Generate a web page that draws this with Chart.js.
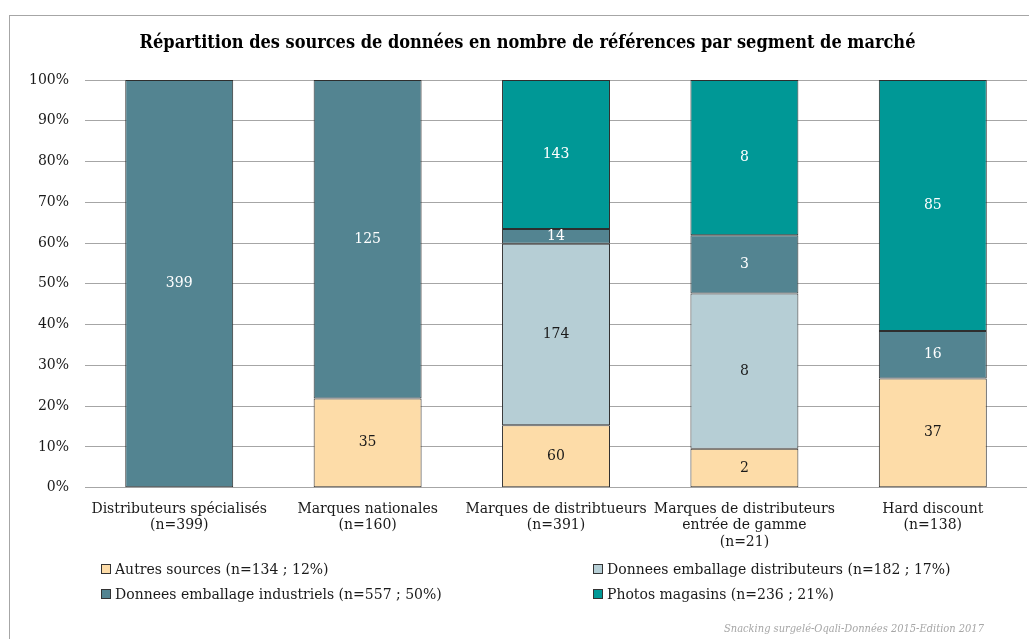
<!DOCTYPE html>
<html>
<head>
<meta charset="utf-8">
<script src="https://cdn.jsdelivr.net/npm/chart.js"></script>
<style>
  body { margin: 0; background: #fff; }
  #wrap { position: relative; width: 1029px; height: 639px; overflow: hidden; }
  #frame { position: absolute; left: 9px; top: 15px; width: 1100px; height: 700px;
           border-left: 1px solid #a6a6a6; border-top: 1px solid #a6a6a6; }
  canvas { position: absolute; left: 0; top: 0; }
  #title { position: absolute; left: 0; width: 1055px; top: 31px; text-align: center;
           font-family: "DejaVu Serif", serif; font-stretch: condensed; font-weight: bold;
           font-size: 18px; color: #000; white-space: nowrap; }
  .legend { position: absolute; font-family: "DejaVu Serif", serif; font-size: 14px; color: #1a1a1a; white-space: nowrap; }
  .legend span.box { display: inline-block; width: 8px; height: 8px; border: 1px solid #333; margin-right: 4px; vertical-align: 0px; }
  #source { position: absolute; left: 724px; top: 622px; font-family: "DejaVu Serif", serif; font-stretch: condensed;
            font-style: italic; font-size: 11px; color: #a6a6a6; white-space: nowrap; }
</style>
</head>
<body>
<div id="wrap">
  <div id="frame"></div>
  <canvas id="chart" width="1029" height="639"></canvas>
  <div id="title">Répartition des sources de données en nombre de références par segment de marché</div>
  <div id="legend"></div>
  <div id="source">Snacking surgelé-Oqali-Données 2015-Edition 2017</div>
</div>
<script>
// categories (label lines) and segment sizes
const categories = [
    ['Distributeurs spécialisés'],
    ['Marques nationales'],
    ['Marques de distribtueurs'],
    ['Marques de distributeurs', 'entrée de gamme'],
    ['Hard discount']
];
const totals = [399, 160, 391, 21, 138];

const seriesNames = [
    'Autres sources (n=134 ; 12%)',
    'Donnees emballage distributeurs (n=182 ; 17%)',
    'Donnees emballage industriels (n=557 ; 50%)',
    'Photos magasins (n=236 ; 21%)'
];
const autresSources = [0, 35, 60, 2, 37];
const emballageDistributeurs = [0, 0, 174, 8, 0];
const emballageIndustriels = [399, 125, 14, 3, 16];
const photosMagasins = [0, 0, 143, 8, 85];

const yTicks = [0, 10, 20, 30, 40, 50, 60, 70, 80, 90, 100];

const colors = ['#fddca8', '#b6ced5', '#538491', '#009896'];
const labelColors = ['#1a1a1a', '#1a1a1a', '#ffffff', '#ffffff'];

const series = [autresSources, emballageDistributeurs, emballageIndustriels, photosMagasins];

const labels = categories.map((lines, i) => [...lines, '(n=' + totals[i] + ')']);

const datasets = series.map((vals, s) => ({
    label: seriesNames[s],
    counts: vals,
    data: vals.map((v, i) => v ? v / totals[i] * 100 : null),
    backgroundColor: colors[s],
    borderColor: '#2e2e2e',
    borderWidth: 1,
    borderSkipped: false,
    barPercentage: 0.573,
    categoryPercentage: 1
}));

const valueLabels = {
    id: 'valueLabels',
    afterDatasetsDraw(chart) {
        const ctx = chart.ctx;
        ctx.save();
        ctx.font = '14px "DejaVu Serif", serif';
        ctx.textAlign = 'center';
        ctx.textBaseline = 'middle';
        chart.data.datasets.forEach((ds, s) => {
            const meta = chart.getDatasetMeta(s);
            meta.data.forEach((bar, i) => {
                if (!ds.counts[i]) return;
                ctx.fillStyle = labelColors[s];
                ctx.fillText(ds.counts[i], bar.x, (bar.y + bar.base) / 2);
            });
        });
        ctx.restore();
    }
};

new Chart(document.getElementById('chart'), {
    type: 'bar',
    data: { labels: labels, datasets: datasets },
    plugins: [valueLabels],
    options: {
        responsive: false,
        animation: false,
        devicePixelRatio: 1,
        layout: { padding: { left: 13, right: 2, top: 80, bottom: 83 } },
        plugins: {
            legend: { display: false },
            tooltip: { enabled: false }
        },
        scales: {
            x: {
                stacked: true,
                grid: { display: false },
                border: { display: false },
                ticks: {
                    color: '#1a1a1a',
                    font: { family: '"DejaVu Serif", serif', size: 14, lineHeight: 1.15 },
                    maxRotation: 0,
                    autoSkip: false,
                    padding: 6
                }
            },
            y: {
                stacked: true,
                min: 0,
                max: 100,
                afterBuildTicks(scale) { scale.ticks = yTicks.map(v => ({ value: v })); },
                grid: { color: '#a6a6a6', drawTicks: false },
                border: { display: false },
                ticks: {
                    color: '#1a1a1a',
                    font: { family: '"DejaVu Serif", serif', size: 14 },
                    padding: 16,
                    callback: v => v + '%'
                }
            }
        }
    }
});

// legend in two columns
const legendPos = [[101, 561], [593, 561], [101, 586], [593, 586]];
const legendEl = document.getElementById('legend');
[0, 1, 2, 3].forEach(s => {
    const d = document.createElement('div');
    d.className = 'legend';
    d.style.left = legendPos[s][0] + 'px';
    d.style.top = legendPos[s][1] + 'px';
    d.innerHTML = '<span class="box" style="background:' + colors[s] + '"></span>' + seriesNames[s];
    legendEl.appendChild(d);
});
</script>
</body>
</html>
